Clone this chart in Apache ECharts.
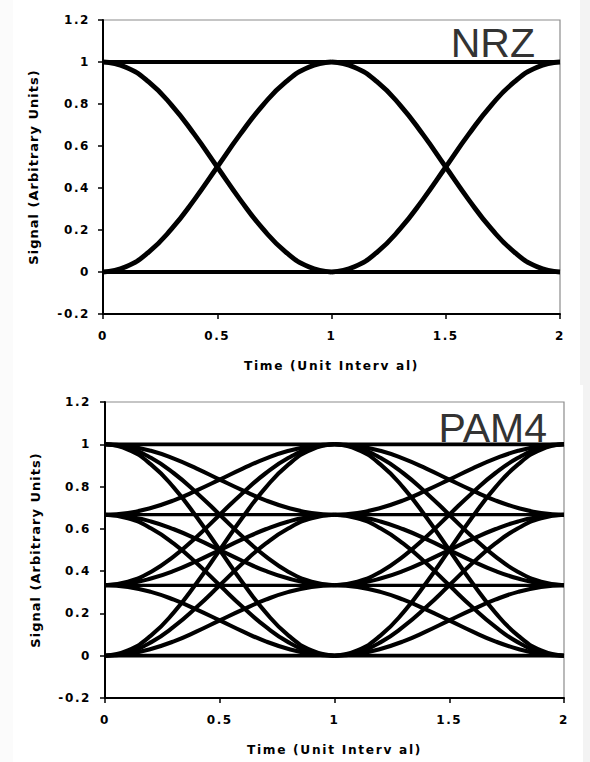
<!DOCTYPE html>
<html>
<head>
<meta charset="utf-8">
<script src="https://cdn.jsdelivr.net/npm/echarts@6/dist/echarts.min.js"></script>
<style>
  html, body { margin: 0; padding: 0; background: #f3f3f3; }
  #c { width: 590px; height: 762px; }
</style>
</head>
<body>
<div id="c"></div>
<script>
// ---------- data ----------
const uiFirst  = [0, 0.1, 0.2, 0.3, 0.4, 0.5, 0.6, 0.7, 0.8, 0.9, 1.0];
const uiSecond = [1.0, 1.1, 1.2, 1.3, 1.4, 1.5, 1.6, 1.7, 1.8, 1.9, 2.0];

// NRZ
const nrzLevels = [0, 1];
const nrzFall = [1, 0.975, 0.905, 0.795, 0.655, 0.5, 0.345, 0.205, 0.095, 0.025, 0];
const nrzRise = [0, 0.025, 0.095, 0.205, 0.345, 0.5, 0.655, 0.795, 0.905, 0.975, 1];

// PAM4
const pamLevels = [0, 0.333, 0.667, 1];
const p0to1 = [0, 0.008, 0.032, 0.068, 0.115, 0.167, 0.218, 0.265, 0.302, 0.325, 0.333];
const p0to2 = [0, 0.017, 0.063, 0.137, 0.23, 0.333, 0.437, 0.53, 0.603, 0.65, 0.667];
const p0to3 = [0, 0.025, 0.095, 0.205, 0.345, 0.5, 0.655, 0.795, 0.905, 0.975, 1];
const p1to0 = [0.333, 0.325, 0.302, 0.265, 0.218, 0.167, 0.115, 0.068, 0.032, 0.008, 0];
const p1to2 = [0.333, 0.341, 0.365, 0.401, 0.448, 0.5, 0.551, 0.598, 0.635, 0.658, 0.667];
const p1to3 = [0.333, 0.35, 0.396, 0.47, 0.563, 0.667, 0.77, 0.863, 0.936, 0.983, 1];
const p2to0 = [0.667, 0.65, 0.603, 0.53, 0.437, 0.333, 0.23, 0.137, 0.063, 0.017, 0];
const p2to1 = [0.667, 0.658, 0.635, 0.598, 0.551, 0.5, 0.448, 0.401, 0.365, 0.341, 0.333];
const p2to3 = [0.667, 0.675, 0.699, 0.735, 0.782, 0.833, 0.885, 0.932, 0.969, 0.992, 1];
const p3to0 = [1, 0.975, 0.905, 0.795, 0.655, 0.5, 0.345, 0.205, 0.095, 0.025, 0];
const p3to1 = [1, 0.983, 0.936, 0.863, 0.77, 0.667, 0.563, 0.47, 0.396, 0.35, 0.333];
const p3to2 = [1, 0.992, 0.969, 0.932, 0.885, 0.833, 0.782, 0.735, 0.699, 0.675, 0.667];

const xTitle = 'Time (Unit Interv al)';
const yTitle = 'Signal (Arbitrary Units)';

// ---------- build ----------
const pair = (xs, ys) => xs.map((x, i) => [x, ys[i]]);
const series = [];
function flat(level, idx, w) {
  series.push({ type: 'line', xAxisIndex: idx, yAxisIndex: idx, data: [[0, level], [2, level]],
    symbol: 'none', silent: true, lineStyle: { color: '#000', width: w } });
}
function curve(ys, idx, w) {
  [uiFirst, uiSecond].forEach(xs => {
    series.push({ type: 'line', xAxisIndex: idx, yAxisIndex: idx, data: pair(xs, ys),
      symbol: 'none', silent: true, smooth: 0.5,
      lineStyle: { color: '#000', width: w } });
  });
}
nrzLevels.forEach(l => flat(l, 0, 4.2));
[nrzFall, nrzRise].forEach(c => curve(c, 0, 4.8));
pamLevels.forEach(l => flat(l, 1, (l === 0 || l === 1) ? 3.8 : 3.2));
[p0to1, p0to2, p0to3, p1to0, p1to2, p1to3, p2to0, p2to1, p2to3, p3to0, p3to1, p3to2]
  .forEach(c => curve(c, 1, 4.1));

const labelFont = { color: '#000', fontFamily: 'DejaVu Sans', fontWeight: 'bold', fontSize: 12 };
function xAxis(idx) {
  return {
    type: 'value', gridIndex: idx, min: 0, max: 2, interval: 0.5,
    axisLine: { show: true, onZero: false, lineStyle: { color: '#000', width: 2 } },
    axisTick: { show: true, length: 5, lineStyle: { color: '#000', width: 1.5 } },
    axisLabel: Object.assign({ margin: 16 }, labelFont),
    splitLine: { show: false },
    name: xTitle, nameLocation: 'middle', nameGap: 46,
    nameTextStyle: { color: '#000', fontFamily: 'DejaVu Sans', fontWeight: 'bold', fontSize: 12.2 }
  };
}
function yAxis(idx, margin) {
  return {
    type: 'value', gridIndex: idx, min: -0.2, max: 1.2, interval: 0.2,
    axisLine: { show: true, onZero: false, lineStyle: { color: '#000', width: 2 } },
    axisTick: { show: true, length: 5, lineStyle: { color: '#000', width: 1.5 } },
    axisLabel: Object.assign({ margin: margin }, labelFont),
    splitLine: { show: false },
    name: yTitle, nameLocation: 'middle', nameGap: 63,
    nameTextStyle: { color: '#000', fontFamily: 'DejaVu Sans', fontWeight: 'bold', fontSize: 13 }
  };
}

const chart = echarts.init(document.getElementById('c'), null, { renderer: 'svg', width: 590, height: 762 });
chart.setOption({
  animation: false,
  backgroundColor: 'transparent',
  grid: [
    { left: 103, top: 20, width: 457, height: 294, show: true, backgroundColor: '#fff', borderColor: '#8c8c8c', borderWidth: 1.2 },
    { left: 105, top: 402, width: 459, height: 296, show: true, backgroundColor: '#fff', borderColor: '#8c8c8c', borderWidth: 1.2 }
  ],
  xAxis: [xAxis(0), xAxis(1)],
  yAxis: [yAxis(0, 13), yAxis(1, 14)],
  graphic: [
    { type: 'rect', z: -10, shape: { x: 0, y: 0, width: 13, height: 762 }, style: { fill: '#fbfbfb' } },
    { type: 'rect', z: -10, shape: { x: 13, y: 0, width: 567, height: 385 }, style: { fill: '#fff' } },
    { type: 'rect', z: -10, shape: { x: 13, y: 385, width: 570, height: 377 }, style: { fill: '#fff' } },
    { type: 'text', z: 100, x: 535, y: 42.5,
      style: { text: 'NRZ', fontSize: 41, fontFamily: 'Liberation Sans', fill: '#333',
               align: 'right', verticalAlign: 'middle', textAlign: 'right', textVerticalAlign: 'middle' } },
    { type: 'text', z: 100, x: 547, y: 428,
      style: { text: 'PAM4', fontSize: 41, fontFamily: 'Liberation Sans', fill: '#333',
               align: 'right', verticalAlign: 'middle', textAlign: 'right', textVerticalAlign: 'middle' } }
  ],
  series: series
});

function spaceText() {
  document.querySelectorAll('#c text').forEach(t => {
    const fs = parseFloat(getComputedStyle(t).fontSize);
    let ls = 0;
    if (fs <= 12.1) ls = 1.6;
    else if (fs <= 12.5) ls = 1.7;
    else if (fs <= 13.5) ls = 1;
    t.style.letterSpacing = ls + 'px';
  });
}
spaceText();
chart.on('finished', spaceText);
</script>
</body>
</html>
